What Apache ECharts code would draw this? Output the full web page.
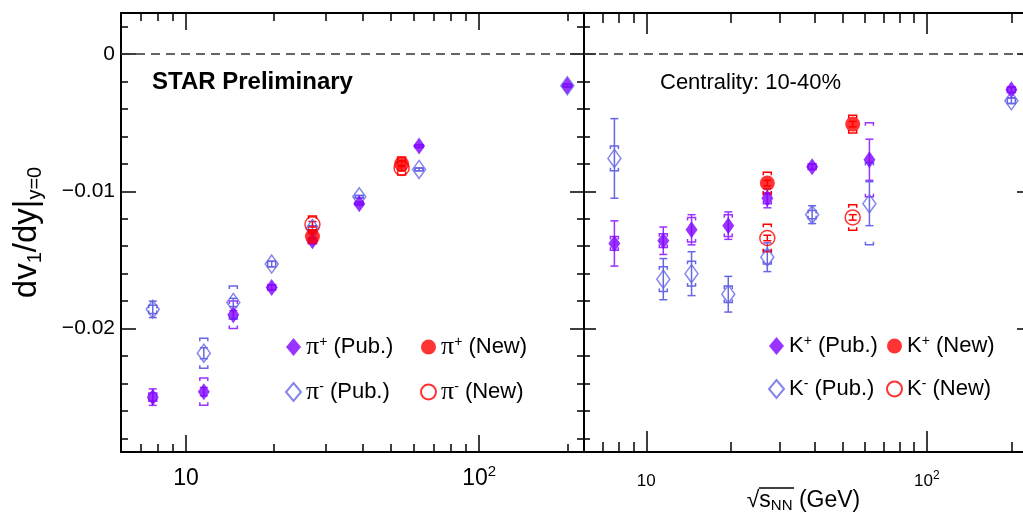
<!DOCTYPE html>
<html>
<head>
<meta charset="utf-8">
<script src="https://cdn.jsdelivr.net/npm/echarts@6/dist/echarts.min.js"></script>
<style>html,body{margin:0;padding:0;background:#fff}#main{width:1023px;height:518px}</style>
</head>
<body>
<div id="main"></div>
<script>
// collision energies (GeV)
var ePub = [7.7, 11.5, 14.5, 19.6, 27, 39, 62.4, 200];
var eNew = [27, 54.4];

// pions (left panel): value, stat error, sys error
var piPlusPub = [-0.0250, -0.0246, -0.0190, -0.0170, -0.0136, -0.0109, -0.0067, -0.0023];
var piPlusPubStat = [0.0006, 0.0003, 0.0003, 0.0002, 0.0002, 0.0001, 0.0001, 0.0001];
var piPlusPubSys = [0.0003, 0.0010, 0.0010, 0.0002, 0.0002, 0.0001, 0.0001, 0.0001];
var piMinusPub = [-0.0186, -0.0218, -0.0181, -0.0153, -0.0127, -0.0104, -0.0084, -0.0023];
var piMinusPubStat = [0.0006, 0.0004, 0.0003, 0.0002, 0.0002, 0.0001, 0.0001, 0.0001];
var piMinusPubSys = [0.0003, 0.0011, 0.0012, 0.0002, 0.0002, 0.0001, 0.0001, 0.0001];
var piPlusNew = [-0.0133, -0.0080];
var piPlusNewStat = [0.0002, 0.0002];
var piPlusNewSys = [0.0005, 0.0005];
var piMinusNew = [-0.0124, -0.0083];
var piMinusNewStat = [0.0002, 0.0002];
var piMinusNewSys = [0.0006, 0.0005];

// kaons (right panel)
var kPlusPub = [-0.0138, -0.0136, -0.0128, -0.0125, -0.0105, -0.0082, -0.0077, -0.0026];
var kPlusPubStat = [0.00165, 0.0010, 0.0011, 0.0010, 0.0007, 0.0002, 0.0015, 0.0002];
var kPlusPubSys = [0.0005, 0.0005, 0.0009, 0.0008, 0.0004, 0.0002, 0.0027, 0.0002];
var kMinusPub = [-0.0076, -0.0164, -0.0160, -0.0175, -0.0148, -0.0117, -0.0109, -0.0034];
var kMinusPubStat = [0.0029, 0.0015, 0.0016, 0.0013, 0.00105, 0.00065, 0.0016, 0.0002];
var kMinusPubSys = [0.0009, 0.0009, 0.0009, 0.0006, 0.0005, 0.0003, 0.0030, 0.0002];
var kPlusNew = [-0.0094, -0.0051];
var kPlusNewStat = [0.0002, 0.0002];
var kPlusNewSys = [0.0008, 0.00065];
var kMinusNew = [-0.0134, -0.0119];
var kMinusNewStat = [0.0002, 0.0002];
var kMinusNewSys = [0.0010, 0.00093];

// ticks
var xMajor = [10, 100];
var xMinor = [7, 8, 9, 20, 30, 40, 50, 60, 70, 80, 90, 200];
var yMajor = [0, -0.01, -0.02];
var yMinor = [0.002, -0.002, -0.004, -0.006, -0.008, -0.012, -0.014, -0.016, -0.018, -0.022, -0.024, -0.026, -0.028];

var PURPLE = '#7f00ff';
var PURPLE_BAR = '#9a33ff';
var BLUE = '#6666e6';
var RED = '#ff0000';
var FONT = 'Liberation Sans';

var myChart = echarts.init(document.getElementById('main'));

function pts(xs, ys) {
    return xs.map(function (x, i) { return [x, ys[i]]; });
}
function errPts(xs, ys, st, sy) {
    return xs.map(function (x, i) { return [x, ys[i], st[i], sy[i]]; });
}

// stat bar with caps + sys brackets
function makeErr(col) {
    return function (params, api) {
        var x = api.value(0), y = api.value(1), st = api.value(2), sy = api.value(3);
        var c = api.coord([x, y]);
        var t = api.coord([x, y + st]), b = api.coord([x, y - st]);
        var sT = api.coord([x, y + sy]), sB = api.coord([x, y - sy]);
        var w = 4, h = 3;
        var s = { stroke: col, lineWidth: 1.5, fill: null };
        return {
            type: 'group',
            children: [
                { type: 'line', shape: { x1: c[0], y1: t[1], x2: c[0], y2: b[1] }, style: s },
                { type: 'line', shape: { x1: c[0] - w, y1: t[1], x2: c[0] + w, y2: t[1] }, style: s },
                { type: 'line', shape: { x1: c[0] - w, y1: b[1], x2: c[0] + w, y2: b[1] }, style: s },
                { type: 'polyline', shape: { points: [[c[0] - w, sT[1] + h], [c[0] - w, sT[1]], [c[0] + w, sT[1]], [c[0] + w, sT[1] + h]] }, style: s },
                { type: 'polyline', shape: { points: [[c[0] - w, sB[1] - h], [c[0] - w, sB[1]], [c[0] + w, sB[1]], [c[0] + w, sB[1] - h]] }, style: s }
            ]
        };
    };
}

function errSeries(g, data, col) {
    return {
        type: 'custom', xAxisIndex: g * 4, yAxisIndex: g * 4, z: 1, silent: true,
        renderItem: makeErr(col), encode: { x: 0, y: 1 }, data: data
    };
}

function xAxes(g, xMax, labelSize, supSize, labelMargin) {
    var base = {
        type: 'log', logBase: 10, min: 6, max: xMax, gridIndex: g,
        splitLine: { show: false }, minorTick: { show: false }
    };
    var line = { show: true, onZero: false, lineStyle: { color: '#000', width: 2 } };
    var bigLen = g === 0 ? 17 : 21, smallLen = g === 0 ? 8 : 10;
    return [
        Object.assign({}, base, {
            position: 'bottom', axisLine: line,
            axisTick: { show: true, inside: true, length: bigLen, customValues: xMajor, lineStyle: { color: '#000', width: 1.5 } },
            axisLabel: {
                show: true, customValues: xMajor, margin: labelMargin, fontSize: labelSize, fontFamily: FONT, color: '#000',
                lineHeight: Math.round(labelSize * 1.3),
                formatter: function (v) { return Math.round(Math.log(v) / Math.LN10) >= 2 ? '10{sup|2}' : '10'; },
                rich: { sup: { fontSize: supSize, fontFamily: FONT, color: '#000', verticalAlign: 'top', lineHeight: supSize } }
            }
        }),
        Object.assign({}, base, {
            position: 'bottom', axisLine: { show: false, onZero: false },
            axisTick: { show: true, inside: true, length: smallLen, customValues: xMinor, lineStyle: { color: '#000', width: 1.5 } },
            axisLabel: { show: false }
        }),
        Object.assign({}, base, {
            position: 'top', axisLine: line,
            axisTick: { show: true, inside: true, length: bigLen, customValues: xMajor, lineStyle: { color: '#000', width: 1.5 } },
            axisLabel: { show: false }
        }),
        Object.assign({}, base, {
            position: 'top', axisLine: { show: false, onZero: false },
            axisTick: { show: true, inside: true, length: smallLen, customValues: xMinor, lineStyle: { color: '#000', width: 1.5 } },
            axisLabel: { show: false }
        })
    ];
}

function yAxes(g, lensL, lensR, showRightLine) {
    var base = { type: 'value', min: -0.029, max: 0.003, gridIndex: g, splitLine: { show: false } };
    var line = { show: true, onZero: false, lineStyle: { color: '#000', width: 2 } };
    function tick(len, vals) {
        return { show: len > 0, inside: true, length: len, customValues: vals, lineStyle: { color: '#000', width: 1.5 } };
    }
    var first = Object.assign({}, base, {
        position: 'left', axisLine: line, axisTick: tick(lensL[0], yMajor), axisLabel: { show: false }
    });
    if (g === 0) {
        first.axisLabel = {
            show: true, customValues: yMajor, margin: 6, fontSize: 21, fontFamily: FONT, color: '#000',
            formatter: function (v) { return v === 0 ? '0' : '\u2212' + Math.abs(v).toFixed(2); }
        };
        first.name = 'dv{sub|1}/dy|{sub|y=0}';
        first.nameLocation = 'middle';
        first.nameRotate = 90;
        first.nameGap = 76;
        first.nameTextStyle = {
            fontSize: 33, fontFamily: FONT, color: '#000',
            rich: { sub: { fontSize: 20, fontFamily: FONT, color: '#000', verticalAlign: 'bottom', padding: [16, 0, 0, 0] } }
        };
    }
    return [
        first,
        Object.assign({}, base, { position: 'left', axisLine: { show: false, onZero: false }, axisTick: tick(lensL[1], yMinor), axisLabel: { show: false } }),
        Object.assign({}, base, { position: 'right', axisLine: showRightLine ? line : { show: false, onZero: false }, axisTick: tick(lensR[0], yMajor), axisLabel: { show: false } }),
        Object.assign({}, base, { position: 'right', axisLine: { show: false, onZero: false }, axisTick: tick(lensR[1], yMinor), axisLabel: { show: false } })
    ];
}

var xa = xAxes(0, 228, 23, 15, 12).concat(xAxes(1, 220, 17, 12, 18));
xa[4].name = '\u221A{s|s}{sub|NN} (GeV)';
xa[4].nameLocation = 'middle';
xa[4].nameGap = 36;
xa[4].nameMoveOverlap = false;
xa[4].nameTextStyle = {
    fontSize: 23, fontFamily: FONT, color: '#000',
    rich: {
        s: { fontSize: 23, fontFamily: FONT, color: '#000' },
        sub: { fontSize: 15, fontFamily: FONT, color: '#000', verticalAlign: 'bottom', padding: [10, 0, 0, 0] }
    }
};
var ya = yAxes(0, [15, 7], [14, 7], true).concat(yAxes(1, [12, 6], [6, 0], false));

var zeroLine = {
    silent: true, symbol: ['none', 'none'], label: { show: false },
    lineStyle: { color: '#333', type: [9, 6], width: 1.5 },
    data: [{ yAxis: 0 }]
};

function markerSeries(name, g, data, kind) {
    var s = { type: 'scatter', name: name, xAxisIndex: g * 4, yAxisIndex: g * 4, z: 3, data: data };
    if (kind === 'fd') { s.symbol = 'diamond'; s.symbolSize = [12, 17]; s.itemStyle = { color: PURPLE }; }
    if (kind === 'od') { s.symbol = 'diamond'; s.symbolSize = [13, 18]; s.itemStyle = { color: 'rgba(255,255,255,0)', borderColor: BLUE, borderWidth: 1.5 }; }
    if (kind === 'fc') { s.symbol = 'circle'; s.symbolSize = 15; s.itemStyle = { color: RED }; s.z = 4; }
    if (kind === 'oc') { s.symbol = 'circle'; s.symbolSize = 15; s.itemStyle = { color: 'rgba(255,255,255,0)', borderColor: RED, borderWidth: 1.5 }; s.z = 4; }
    return s;
}

var series = [
    errSeries(0, errPts(ePub, piPlusPub, piPlusPubStat, piPlusPubSys), PURPLE_BAR),
    errSeries(0, errPts(ePub, piMinusPub, piMinusPubStat, piMinusPubSys), BLUE),
    errSeries(0, errPts(eNew, piPlusNew, piPlusNewStat, piPlusNewSys), RED),
    errSeries(0, errPts(eNew, piMinusNew, piMinusNewStat, piMinusNewSys), RED),
    errSeries(1, errPts(ePub, kPlusPub, kPlusPubStat, kPlusPubSys), PURPLE_BAR),
    errSeries(1, errPts(ePub, kMinusPub, kMinusPubStat, kMinusPubSys), BLUE),
    errSeries(1, errPts(eNew, kPlusNew, kPlusNewStat, kPlusNewSys), RED),
    errSeries(1, errPts(eNew, kMinusNew, kMinusNewStat, kMinusNewSys), RED),
    markerSeries('π- (Pub.)', 0, pts(ePub, piMinusPub), 'od'),
    markerSeries('π+ (Pub.)', 0, pts(ePub, piPlusPub), 'fd'),
    markerSeries('π- (New)', 0, pts(eNew, piMinusNew), 'oc'),
    markerSeries('π+ (New)', 0, pts(eNew, piPlusNew), 'fc'),
    markerSeries('K- (Pub.)', 1, pts(ePub, kMinusPub), 'od'),
    markerSeries('K+ (Pub.)', 1, pts(ePub, kPlusPub), 'fd'),
    markerSeries('K- (New)', 1, pts(eNew, kMinusNew), 'oc'),
    markerSeries('K+ (New)', 1, pts(eNew, kPlusNew), 'fc')
];
series[0].markLine = zeroLine;
series[4].markLine = zeroLine;

function legendFmt(name) {
    var m = name.match(/^(π|K)([+-]) (.*)$/);
    var base = m[1] === 'π' ? '{pi|π}' : 'K';
    return base + '{sup|' + m[2] + '} ' + m[3];
}
var legendText = {
    fontSize: 22, fontFamily: FONT, color: '#000', lineHeight: 24,
    rich: {
        pi: { fontSize: 26, fontFamily: '"Liberation Serif", "DejaVu Serif", serif', color: '#000', lineHeight: 24 },
        sup: { fontSize: 14, fontFamily: FONT, color: '#000', verticalAlign: 'top', lineHeight: 14 }
    }
};
function legendCol(left, names) {
    return {
        orient: 'vertical', left: left, top: 329, itemGap: 19, itemWidth: 15, itemHeight: 18,
        selectedMode: false, formatter: legendFmt, textStyle: legendText,
        data: names
    };
}

var option = {
    animation: false,
    backgroundColor: '#fff',
    grid: [
        { left: 121, top: 13, width: 463, height: 439, outerBoundsMode: 'none' },
        { left: 584, top: 13, width: 439, height: 439, outerBoundsMode: 'none' }
    ],
    xAxis: xa,
    yAxis: ya,
    legend: [
        legendCol(280, ['π+ (Pub.)', 'π- (Pub.)']),
        legendCol(415, ['π+ (New)', 'π- (New)']),
        legendCol(763, ['K+ (Pub.)', 'K- (Pub.)']),
        legendCol(881, ['K+ (New)', 'K- (New)'])
    ],
    graphic: [
        { type: 'text', left: 152, top: 70, style: { text: 'STAR Preliminary', font: 'bold 24px "Liberation Sans"', fill: '#000' } },
        { type: 'text', left: 660, top: 72, style: { text: 'Centrality: 10-40%', font: '22px "Liberation Sans"', fill: '#000' } },
        { type: 'line', shape: { x1: 759, y1: 488, x2: 794, y2: 488 }, style: { stroke: '#000', lineWidth: 1.5 } }
    ],
    series: series
};

myChart.setOption(option);
window.onresize = myChart.resize;
</script>
</body>
</html>
